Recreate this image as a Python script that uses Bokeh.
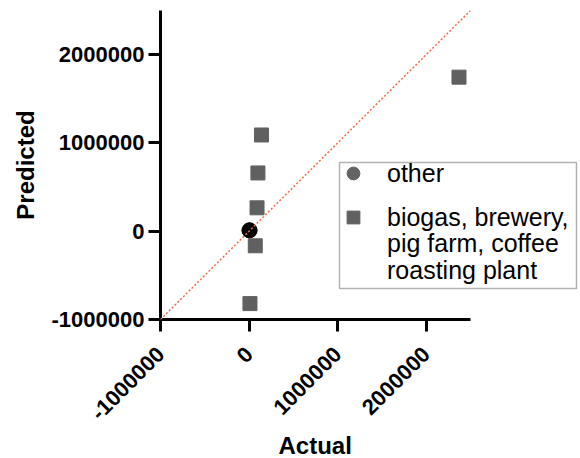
import math
from bokeh.plotting import figure
from bokeh.models import (Range1d, FixedTicker, Slope, Legend, LegendItem,
                          BoxAnnotation, Title)
from bokeh.embed import file_html
from bokeh.resources import INLINE

# ---- data ----
tick_values = [-1000000, 0, 1000000, 2000000]
tick_labels = ["-1000000", "0", "1000000", "2000000"]

other_actual = [5000]
other_predicted = [10000]

group_actual = [2370000, 140000, 100000, 90000, 70000, 10000]
group_predicted = [1745000, 1090000, 660000, 265000, -165000, -820000]

other_label = "other"
group_lines = ["biogas, brewery,", "pig farm, coffee", "roasting plant"]
x_title = "Actual"
y_title = "Predicted"

# ---- layout constants (pixels) ----
W, H = 580, 458
FRAME_L, AXIS_R, FRAME_T, FRAME_B = 160, 470, 10, 319
LO, HI = -1000000, 2500000
x_per_px = (HI - LO) / (AXIS_R - FRAME_L)
y_per_px = (HI - LO) / (FRAME_B - FRAME_T)
x_end = LO + (W - FRAME_L) * x_per_px


def px_to_x(px):
    return LO + (px - FRAME_L) * x_per_px


def py_to_y(py):
    return LO + (FRAME_B - py) * y_per_px


p = figure(width=W, height=H, output_backend="svg", toolbar_location=None,
           x_range=Range1d(LO, x_end), y_range=Range1d(LO, HI),
           min_border_left=FRAME_L, min_border_right=0, min_border_top=FRAME_T,
           min_border_bottom=H - FRAME_B)
p.outline_line_color = None
p.xgrid.visible = False
p.ygrid.visible = False
p.background_fill_color = "white"
p.border_fill_color = "white"

font = "Liberation Sans"
for ax in (p.xaxis[0], p.yaxis[0]):
    ax.ticker = FixedTicker(ticks=tick_values)
    ax.major_label_overrides = {v: s for v, s in zip(tick_values, tick_labels)}
    ax.bounds = (LO, HI)
    ax.minor_tick_line_color = None
    ax.major_tick_in = 0
    ax.major_tick_out = 12
    ax.major_tick_line_width = 3
    ax.axis_line_width = 3
    ax.axis_line_color = "black"
    ax.major_tick_line_color = "black"
    ax.major_label_text_font = font
    ax.major_label_text_font_style = "bold"
    ax.major_label_text_font_size = "22px"
    ax.major_label_text_color = "black"
    ax.axis_label_text_font = font
    ax.axis_label_text_font_style = "bold"
    ax.axis_label_text_font_size = "24px"
    ax.axis_label_text_color = "black"

p.yaxis.axis_label = y_title
p.xaxis.major_label_orientation = math.pi / 4
p.xaxis.major_label_standoff = 19
p.yaxis.major_label_standoff = 4
p.yaxis.axis_label_standoff = 10

# x-axis title, centred under the drawn axis (160..470 px)
p.add_layout(Title(text=x_title, align="left", offset=118, standoff=0,
                   text_font=font, text_font_size="24px",
                   text_font_style="bold", text_color="black"), "below")

# identity line
p.add_layout(Slope(gradient=1, y_intercept=0, line_color="#f26b45",
                   line_width=1.5, line_dash="2 2"))

squares = p.scatter(group_actual, group_predicted, marker="square", size=14,
                    color="#606060")
other_gray = p.scatter(other_actual, other_predicted, marker="circle", size=15,
                       color="#646464")
p.scatter(other_actual, other_predicted, marker="circle", size=15, color="black")
blank = p.scatter([], [], marker="square", size=1, alpha=0)

# legend frame
p.add_layout(BoxAnnotation(left=px_to_x(339), right=px_to_x(576),
                           top=py_to_y(162), bottom=py_to_y(288),
                           fill_color="white", fill_alpha=1.0,
                           line_color="black", line_width=1.5))


def make_legend(label, renderer, center_py):
    lg = Legend(items=[LegendItem(label=label, renderers=[renderer])],
                location=(177, FRAME_B - center_py - 16))
    lg.border_line_color = None
    lg.background_fill_alpha = 0
    lg.label_text_font = font
    lg.label_text_font_size = "25px"
    lg.label_text_color = "black"
    lg.glyph_width = 32
    lg.glyph_height = 32
    lg.label_height = 20
    lg.label_standoff = 18
    lg.padding = 0
    lg.spacing = 0
    lg.margin = 0
    p.add_layout(lg)


make_legend(other_label, other_gray, 173)
make_legend(group_lines[0], squares, 217)
make_legend(group_lines[1], blank, 243)
make_legend(group_lines[2], blank, 270)

open("out.html", "w").write(file_html(p, INLINE))
